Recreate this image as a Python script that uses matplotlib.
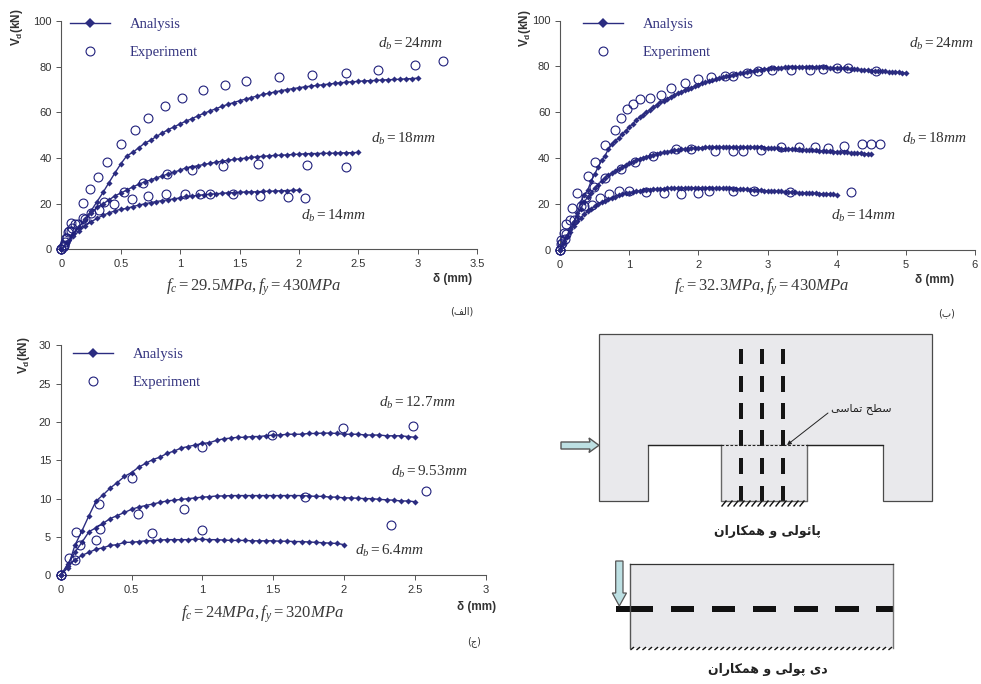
import matplotlib
matplotlib.use("Agg")
import matplotlib.pyplot as plt
from matplotlib.patches import Polygon, Rectangle
from matplotlib.lines import Line2D

W, H = 981, 684
NAVY = "#2b2c80"
CIRC = "#20207c"
GREY = "#333333"

# ---- Panel A (f_c = 29.5 MPa) ----
a_step = 0.05
a_24 = [0, 3.5, 7, 10, 13.5, 17, 21, 25, 29.3, 33.5, 37.5, 41, 42.5, 44.5, 46.5, 47.8, 49.5, 51, 52.5, 53.7, 55,
        56.2, 57.3, 58.5, 59.6, 60.6, 61.6, 62.6, 63.5, 64.3, 65.1, 65.8, 66.5, 67.2, 67.9, 68.4, 69, 69.5, 70,
        70.4, 70.8, 71.2, 71.5, 71.8, 72.1, 72.4, 72.7, 73, 73.2, 73.4, 73.6, 73.8, 73.9, 74, 74.2, 74.3, 74.4,
        74.5, 74.7, 74.8, 75]
a_18 = [0, 3.5, 7, 10, 13, 16, 18.5, 20, 21.7, 23.5, 24.7, 26, 27.4, 28.5, 29.6, 30.4, 31.4, 32.2, 33.1, 33.9,
        34.7, 35.8, 36.2, 36.7, 37.2, 37.7, 38.2, 38.6, 39, 39.4, 39.7, 40, 40.3, 40.6, 40.8, 41, 41.2, 41.3,
        41.4, 41.6, 41.7, 41.9, 42, 42, 42.1, 42.1, 42.2, 42.3, 42.3, 42.4, 42.5]
a_14 = [0, 3, 6, 8, 10.3, 12.2, 13.6, 15, 16, 16.9, 17.6, 18, 18.8, 19.4, 20, 20.5, 21, 21.4, 21.8, 22.2, 22.6,
        23.3, 23.4, 23.7, 24, 24.2, 24.4, 24.6, 24.8, 24.9, 25, 25.2, 25.2, 25.3, 25.4, 25.5, 25.6, 25.7, 25.8,
        25.9, 26]
ax_24 = [0, .02, .04, .06, .084, .185, .24, .31, .385, .5, .62, .727, .873, 1.013, 1.196, 1.378, 1.55, 1.83, 2.108,
         2.394, 2.663, 2.978, 3.213]
ay_24 = [0, 2, 5, 8, 11.8, 20.5, 26.6, 31.9, 38.5, 46.2, 52.3, 57.5, 62.6, 66.1, 69.7, 71.9, 73.8, 75.6, 76.5, 77.3,
         78.7, 80.6, 82.5]
ax_18 = [0, .02, .05, .08, .11, .177, .25, .32, .525, .69, .89, 1.1, 1.36, 1.656, 2.066, 2.40]
ay_18 = [0, 1.5, 5, 8, 11.1, 13.6, 15.8, 17.5, 25.3, 29, 33, 35, 36.7, 37.3, 37.1, 36.1]
ax_14 = [0, .01, .03, .056, .09, .14, .2, .356, .44, .59, .727, .884, 1.04, 1.165, 1.255, 1.448, 1.673, 1.908, 2.05]
ay_14 = [0, 1, 3.5, 7.5, 9.5, 11, 13.5, 20.6, 19.9, 22, 23.4, 24.4, 24.4, 24.3, 24.3, 24.3, 23.4, 23, 22.7]

# ---- Panel B (f_c = 32.3 MPa) ----
b_step = 0.05
b_24 = [0, 3, 6, 9, 12, 16, 21, 24, 26, 30, 33, 36, 39, 41, 44, 46, 47.5, 49, 50.5, 52, 53.5, 55, 56.5, 58, 59,
        60, 61.2, 62.3, 63.3, 64.3, 65, 66, 66.8, 67.5, 68.2, 68.9, 69.6, 70.2, 70.8, 71.4, 72, 72.6, 73.1, 73.6,
        74, 74.5, 75, 75.3, 75.7, 76, 76.4, 76.7, 77, 77.3, 77.6, 77.9, 78.1, 78.3, 78.6, 78.8, 79, 79.1, 79.2,
        79.3, 79.5, 79.6, 79.6, 79.7, 79.7, 79.8, 79.8, 79.8, 79.8, 79.8, 79.8, 79.8, 79.7, 79.6, 79.5, 79.4, 79.3,
        79.2, 79.2, 79.1, 79, 78.9, 78.7, 78.6, 78.4, 78.3, 78.2, 78.1, 78, 77.9, 77.8, 77.7, 77.6, 77.5, 77.4,
        77.3, 77]
b_18 = [0, 3, 6, 9, 12, 15, 18, 21, 23, 25, 27, 28.5, 30, 31.3, 32.5, 33.6, 34.6, 35.4, 36.2, 37, 37.8, 38.5, 39,
        39.6, 40.2, 40.7, 41.1, 41.5, 41.9, 42.3, 42.5, 42.9, 43.1, 43.4, 43.6, 43.8, 44, 44.1, 44.3, 44.4, 44.5,
        44.6, 44.7, 44.7, 44.8, 44.8, 44.8, 44.8, 44.8, 44.8, 44.8, 44.8, 44.8, 44.8, 44.8, 44.8, 44.8, 44.7,
        44.7, 44.6, 44.5, 44.4, 44.4, 44.3, 44.2, 44.1, 44, 44, 43.9, 43.8, 43.7, 43.6, 43.5, 43.5, 43.4, 43.3,
        43.2, 43.1, 43, 42.9, 42.8, 42.7, 42.6, 42.5, 42.4, 42.3, 42.2, 42.1, 42, 41.9, 41.7]
b_14 = [0, 3, 5.5, 8, 10.5, 12.5, 14, 15.5, 16.8, 18, 19, 20, 20.8, 21.5, 22.2, 22.8, 23.3, 23.8, 24.3, 24.7, 25,
        25.3, 25.6, 25.8, 26, 26.2, 26.3, 26.4, 26.5, 26.6, 26.7, 26.8, 26.9, 27, 27, 27, 27.1, 27.1, 27.1, 27.1,
        27.1, 27.1, 27.1, 27, 27, 26.9, 26.9, 26.8, 26.8, 26.8, 26.7, 26.7, 26.6, 26.5, 26.4, 26.3, 26.2, 26.1, 26,
        25.9, 25.8, 25.7, 25.7, 25.6, 25.5, 25.4, 25.3, 25.2, 25.1, 25, 24.9, 24.8, 24.8, 24.7, 24.7, 24.6, 24.5,
        24.4, 24.4, 24.3, 24]
bx_24 = [0, .02, .06, .08, .17, .25, .4, .5, .65, .79, .88, .97, 1.06, 1.155, 1.3, 1.46, 1.61, 1.8, 2.0, 2.18, 2.38,
         2.5, 2.7, 2.86, 3.07, 3.34, 3.62, 3.8, 4, 4.17, 4.57]
by_24 = [0, 4.4, 7.3, 11.3, 18.1, 25, 32.4, 38.5, 45.7, 52.2, 57.3, 61.4, 63.4, 65.7, 66.3, 67.5, 70.7, 72.6, 74.3,
         75.2, 76, 76, 77, 78, 78.4, 78.4, 78.4, 78.7, 79.4, 79.4, 78]
bx_18 = [0, .03, .08, .15, .3, .38, .49, .65, .88, 1.08, 1.35, 1.68, 1.89, 2.24, 2.5, 2.64, 2.9, 3.2, 3.46, 3.69,
         3.88, 4.1, 4.36, 4.49, 4.62]
by_18 = [0, 3, 7, 13, 19, 23, 27.3, 31.2, 35.3, 38.2, 41, 44, 44, 43.3, 43.3, 43.3, 43.5, 44.8, 45, 45, 44.6, 45.3,
         46.2, 46.4, 46.4]
bx_14 = [0, .02, .07, .2, .34, .46, .58, .71, .85, 1, 1.24, 1.5, 1.75, 2, 2.16, 2.5, 2.8, 3.32, 4.2]
by_14 = [0, 2.5, 5, 13, 19.2, 19.6, 22.8, 24.2, 25.5, 25.5, 25.1, 24.7, 24.4, 24.8, 25.7, 25.7, 25.7, 25.4, 25.4]

# ---- Panel C (f_c = 24 MPa) ----
c_step = 0.05
c_127 = [0, 1, 3.9, 5.8, 7.8, 9.7, 10.5, 11.4, 12.1, 12.9, 13.4, 14.1, 14.6, 15.1, 15.4, 15.9, 16.2, 16.6, 16.8, 17,
         17.2, 17.3, 17.6, 17.8, 17.9, 18, 18, 18.1, 18.1, 18.2, 18.3, 18.3, 18.4, 18.4, 18.4, 18.5, 18.5, 18.55,
         18.55, 18.5, 18.4, 18.4, 18.4, 18.3, 18.3, 18.3, 18.2, 18.2, 18.2, 18.1, 18]
c_953 = [0, 1.5, 3, 4.3, 5.7, 6.2, 6.8, 7.4, 7.8, 8.2, 8.6, 8.9, 9.1, 9.3, 9.5, 9.7, 9.8, 9.9, 10, 10.1, 10.2, 10.25,
         10.35, 10.35, 10.4, 10.4, 10.4, 10.4, 10.4, 10.4, 10.4, 10.4, 10.4, 10.4, 10.4, 10.35, 10.3, 10.3, 10.2,
         10.2, 10.1, 10.1, 10.05, 10, 10, 9.9, 9.85, 9.8, 9.7, 9.7, 9.6]
c_64 = [0, 1.2, 2, 2.6, 3, 3.4, 3.6, 3.9, 4, 4.3, 4.3, 4.4, 4.5, 4.5, 4.6, 4.65, 4.65, 4.65, 4.65, 4.7, 4.7, 4.65,
        4.65, 4.6, 4.55, 4.55, 4.55, 4.5, 4.5, 4.5, 4.5, 4.45, 4.45, 4.4, 4.4, 4.35, 4.3, 4.25, 4.2, 4.15, 4]
cx_127 = [0, .06, .108, .268, .5, 1, 1.49, 1.99, 2.485]
cy_127 = [0, 2.2, 5.65, 9.26, 12.7, 16.7, 18.3, 19.2, 19.5]
cx_953 = [0, .136, .278, .546, .873, 1.725, 2.58]
cy_953 = [0, 4, 6, 8, 8.7, 10.2, 11]
cx_64 = [0, .1, .247, .647, .998, 2.33]
cy_64 = [0, 2, 4.6, 5.5, 5.9, 6.6]

LEG_ANALYSIS = "Analysis"
LEG_EXPERIMENT = "Experiment"
VLABEL = "$\\mathbf{V_d}$(kN)"
DLABEL = "δ (mm)"

FORMS = {
    "ا": (0xFE8D, 0xFE8E), "ئ": (0xFE89, 0xFE8A, 0xFE8B, 0xFE8C), "پ": (0xFB56, 0xFB57, 0xFB58, 0xFB59),
    "و": (0xFEED, 0xFEEE), "ل": (0xFEDD, 0xFEDE, 0xFEDF, 0xFEE0), "ی": (0xFBFC, 0xFBFD, 0xFBFE, 0xFBFF),
    "ه": (0xFEE9, 0xFEEA, 0xFEEB, 0xFEEC), "م": (0xFEE1, 0xFEE2, 0xFEE3, 0xFEE4),
    "ک": (0xFB8E, 0xFB8F, 0xFB90, 0xFB91), "ر": (0xFEAD, 0xFEAE), "ن": (0xFEE5, 0xFEE6, 0xFEE7, 0xFEE8),
    "د": (0xFEA9, 0xFEAA), "س": (0xFEB1, 0xFEB2, 0xFEB3, 0xFEB4), "ط": (0xFEC1, 0xFEC2, 0xFEC3, 0xFEC4),
    "ح": (0xFEA1, 0xFEA2, 0xFEA3, 0xFEA4), "ت": (0xFE95, 0xFE96, 0xFE97, 0xFE98),
    "ب": (0xFE8F, 0xFE90, 0xFE91, 0xFE92), "ج": (0xFE9D, 0xFE9E, 0xFE9F, 0xFEA0),
    "ف": (0xFED1, 0xFED2, 0xFED3, 0xFED4),
}


def shape(s):
    out = []
    for i, c in enumerate(s):
        if c not in FORMS:
            out.append(c)
            continue
        prev = s[i - 1] if i > 0 else " "
        nxt = s[i + 1] if i + 1 < len(s) else " "
        jp = prev in FORMS and len(FORMS[prev]) == 4
        jn = nxt in FORMS and len(FORMS[c]) == 4
        f = FORMS[c]
        idx = 3 if jp and jn else 1 if jp else 2 if jn else 0
        out.append(chr(f[idx]))
    return "".join(reversed(out))


plt.rcParams["font.family"] = ["Liberation Sans", "DejaVu Sans"]
plt.rcParams["mathtext.fontset"] = "custom"
plt.rcParams["mathtext.rm"] = "Liberation Serif"
plt.rcParams["mathtext.it"] = "Liberation Serif:italic"
plt.rcParams["mathtext.bf"] = "Liberation Sans:bold"

fig = plt.figure(figsize=(W / 100, H / 100), dpi=100)


def px_axes(x0, x1, ytop, ybot):
    return fig.add_axes([x0 / W, 1 - ybot / H, (x1 - x0) / W, (ybot - ytop) / H])


def put(x, y, s, **kw):
    kw.setdefault("ha", "center")
    kw.setdefault("va", "center")
    return fig.text(x / W, 1 - y / H, s, **kw)


def panel(box, xlim, xticks, ylim, yticks, curves, points, legend_xy, labels, fmt):
    ax = px_axes(*box)
    for vals, step in curves:
        xs = [i * step for i in range(len(vals))]
        ax.plot(xs, vals, "-", color=NAVY, lw=1, marker="D", ms=3.1, mew=0, clip_on=False, zorder=3)
    for xs, ys in points:
        ax.plot(xs, ys, "o", mfc="none", mec=CIRC, ms=6.4, mew=0.8, clip_on=False, zorder=4)
    ax.set_xlim(*xlim)
    ax.set_ylim(*ylim)
    ax.set_xticks(xticks)
    ax.set_xticklabels([f"{t:g}" for t in xticks])
    ax.set_yticks(yticks)
    ax.patch.set_alpha(0)
    for s in ("top", "right"):
        ax.spines[s].set_visible(False)
    for s in ("left", "bottom"):
        ax.spines[s].set_color("#555555")
        ax.spines[s].set_linewidth(0.8)
    ax.tick_params(length=3.5, width=0.7, color="#555555", labelsize=8, labelcolor=GREY, pad=3.5)
    h = [Line2D([], [], color=NAVY, lw=1, marker="D", ms=5, mew=0),
         Line2D([], [], ls="none", marker="o", mfc="none", mec=CIRC, ms=6.4, mew=0.8)]
    ax.legend(h, [LEG_ANALYSIS, LEG_EXPERIMENT], loc="upper left", frameon=False,
              bbox_to_anchor=(legend_xy[0] / W, 1 - legend_xy[1] / H), bbox_transform=fig.transFigure,
              prop={"family": "Liberation Serif", "size": 10.5}, labelcolor="#33337f",
              handlelength=2.75, handletextpad=1.35, labelspacing=0.98, borderpad=0, borderaxespad=0)
    for x, y, s in labels:
        put(x, y, s, fontsize=11, color="#333333")
    put(*fmt[:2], fmt[2], fontsize=12, color="#3a3a3a")
    return ax


panel((61.5, 477, 21, 249.5), (0, 3.5), [0, .5, 1, 1.5, 2, 2.5, 3, 3.5], (0, 100), range(0, 101, 20),
      [(a_24, a_step), (a_18, a_step), (a_14, a_step)],
      [(ax_24, ay_24), (ax_18, ay_18), (ax_14, ay_14)], (70, 18),
      [(410, 44, "$d_b=24mm$"), (403, 139, "$d_b=18mm$"), (333, 216, "$d_b=14mm$")],
      (254, 287, "$f_c=29.5MPa,f_y=430MPa$"))
panel((560, 975, 20.5, 250), (0, 6), [0, 1, 2, 3, 4, 5, 6], (0, 100), range(0, 101, 20),
      [(b_24, b_step), (b_18, b_step), (b_14, b_step)],
      [(bx_24, by_24), (bx_18, by_18), (bx_14, by_14)], (583, 18),
      [(941, 44, "$d_b=24mm$"), (934, 139, "$d_b=18mm$"), (863, 216, "$d_b=14mm$")],
      (762, 287, "$f_c=32.3MPa,f_y=430MPa$"))
panel((60.7, 485.7, 345.3, 575.3), (0, 3), [0, .5, 1, 1.5, 2, 2.5, 3], (0, 30), range(0, 31, 5),
      [(c_127, c_step), (c_953, c_step), (c_64, c_step)],
      [(cx_127, cy_127), (cx_953, cy_953), (cx_64, cy_64)], (73, 348),
      [(417, 403, "$d_b=12.7mm$"), (429, 472, "$d_b=9.53mm$"), (389, 551, "$d_b=6.4mm$")],
      (262, 614, "$f_c=24MPa,f_y=320MPa$"))

for x, y in ((17, 27), (525, 28), (24, 355)):
    put(x, y, VLABEL, rotation=90, fontsize=8.5, fontweight="bold", color=GREY)
for x, y in ((453, 279), (935, 280), (477, 607)):
    put(x, y, DLABEL, fontsize=8.5, fontweight="bold", family=["DejaVu Sans"] if False else ["Liberation Sans", "DejaVu Sans"], color=GREY)

AR = ["DejaVu Sans"]
put(461.5, 312, "(" + shape("الف") + ")", fontsize=7, family=AR, color=GREY)
put(947, 313, "(" + shape("ب") + ")", fontsize=7, family=AR, color=GREY)
put(474, 642, "(" + shape("ج") + ")", fontsize=7, family=AR, color=GREY)

# ---- schematic, drawn in pixel space ----
d = fig.add_axes([0, 0, 1, 1], zorder=-1)
d.set_xlim(0, W)
d.set_ylim(H, 0)
d.axis("off")
FILL = "#e9e9ec"
EDGE = "#4a4a4a"
d.add_patch(Polygon([(599, 334.3), (931.7, 334.3), (931.7, 500.7), (883, 500.7), (883, 445.3), (648, 445.3),
                     (648, 500.7), (599, 500.7)], closed=True, fc=FILL, ec=EDGE, lw=0.9))
d.add_patch(Rectangle((720.7, 445.3), 86.6, 55.4, fc=FILL, ec="none"))
d.plot([720.7, 720.7, 807.3, 807.3], [445.3, 500.7, 500.7, 445.3], color="#666666", lw=1)
d.plot([648, 720.7], [445.3, 445.3], color="#222222", lw=0.9)
d.plot([807.3, 883], [445.3, 445.3], color="#222222", lw=0.9)
d.plot([720.7, 807.3], [445.3, 445.3], color="#222222", lw=0.8, dashes=(2.5, 1.5))
for bx in (741.3, 762, 783):
    for y0, y1 in ((349, 364.3), (375.7, 391.7), (403, 419), (430.3, 446.3), (457.7, 473.7), (485.7, 500.7)):
        d.add_patch(Rectangle((bx - 2, y0), 4, y1 - y0, fc="#151515", ec="none"))
for x0 in range(722, 806, 6):
    d.plot([x0, x0 + 4], [506, 501], color="#111111", lw=1)
for x0 in range(631, 893, 6):
    d.plot([x0, x0 + 2.5], [649.5, 647.5], color="#111111", lw=1)
d.annotate("", xy=(787, 445), xytext=(828, 413),
           arrowprops=dict(arrowstyle="-|>", color="#222222", lw=0.7, mutation_scale=6, shrinkA=0, shrinkB=0))
put(861.5, 409, shape("سطح تماسی"), fontsize=8, family=AR, color="#222222")
put(767, 532, shape("پائولی و همکاران"), fontsize=9, fontweight="bold", family=AR, color="#222222")
put(768, 670, shape("دی پولی و همکاران"), fontsize=9, fontweight="bold", family=AR, color="#222222")
# horizontal load arrow
d.add_patch(Polygon([(561, 442), (590, 442), (589, 438), (599, 445.3), (589, 452.5), (590, 449), (561, 449)],
                    closed=True, fc="#bde0e3", ec="#555555", lw=1, zorder=5))
# lower member
d.add_patch(Rectangle((629.7, 564.3), 263.6, 83.4, fc=FILL, ec="none"))
d.plot([629.7, 629.7], [564.3, 647.7], color="#555555", lw=1)
d.plot([893.3, 893.3], [564.3, 647.7], color="#777777", lw=1)
d.plot([629.7, 893.3], [564.3, 564.3], color="#333333", lw=0.9)
for x0, x1 in ((616, 653), (671, 694.3), (712, 735.3), (753, 776.3), (794, 817.7), (835, 858.7), (876, 893.3)):
    d.add_patch(Rectangle((x0, 606.3), x1 - x0, 6, fc="#111111", ec="none"))
d.add_patch(Polygon([(615.7, 561), (623, 561), (623, 593), (626.5, 593), (619.3, 606), (612.3, 593), (615.7, 593)],
                    closed=True, fc="#bde0e3", ec="#555555", lw=0.9, zorder=5))

fig.savefig("out.png", dpi=100)
